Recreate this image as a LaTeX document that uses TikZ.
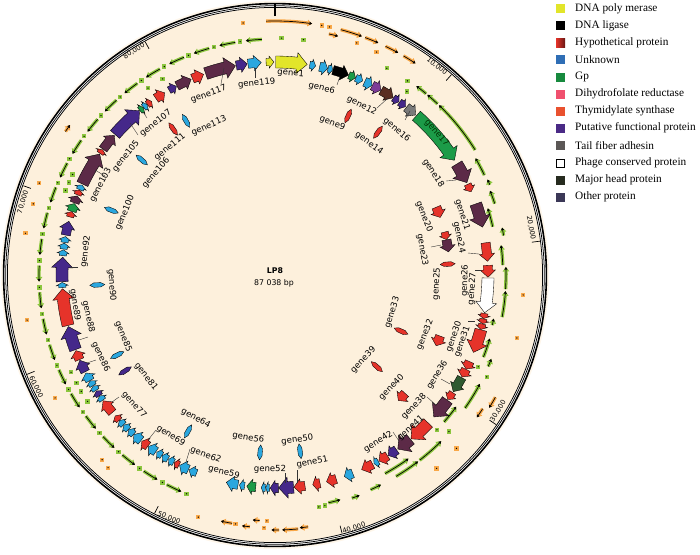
\documentclass[tikz,border=0pt]{standalone}
\usepackage{fontspec}
\setmainfont{Liberation Serif}
\newfontfamily\dvs{DejaVu Sans}
\usetikzlibrary{arrows.meta}
\definecolor{bgpeach}{HTML}{FDF0DC}
\definecolor{cyellow}{HTML}{E2E52A}
\definecolor{ccyan}{HTML}{2AA7DF}
\definecolor{cred}{HTML}{E6332A}
\definecolor{cpurple}{HTML}{45288A}
\definecolor{cpurpleb}{HTML}{7D3C98}
\definecolor{cmaroon}{HTML}{5C2A47}
\definecolor{cgreen}{HTML}{1C9B48}
\definecolor{cdkgreen}{HTML}{2E5A30}
\definecolor{cgrey}{HTML}{7A7A7A}
\definecolor{cbrown}{HTML}{5A2F22}
\definecolor{cgreenl}{HTML}{8CC63E}
\definecolor{corange}{HTML}{F9A848}
\definecolor{lgblue}{HTML}{2F6EB5}
\definecolor{lggreen}{HTML}{178A3E}
\definecolor{lgpink}{HTML}{F0506E}
\definecolor{lgorange}{HTML}{E9512F}
\definecolor{lgpurple}{HTML}{4A2A86}
\definecolor{lggrey}{HTML}{5B5756}
\definecolor{lghead}{HTML}{262B1F}
\definecolor{lgother}{HTML}{3B3857}
\tikzset{
  genebox/.style={draw=black, line width=0.35pt, line join=miter},
  glabel/.style={font=\dvs\fontsize{8.5}{9}\selectfont, inner sep=0pt},
  tlabel/.style={font=\dvs\fontsize{6.8}{7}\selectfont, inner sep=0pt},
  legtext/.style={font=\fontsize{11.3}{12}\selectfont, inner sep=0pt, anchor=west},
  leader/.style={draw=black!80, line width=0.4pt},
  tickline/.style={line width=0.7pt}
}
% gene arrow on an arc: start, tip, colour, half body, half head, head length (deg), radius
\newcommand{\garr}[7]{%
 \pgfmathsetmacro{\gL}{abs(#2-#1)}%
 \pgfmathsetmacro{\gS}{(#2>#1)?1:-1}%
 \pgfmathsetmacro{\gH}{min(#6,0.6*\gL)}%
 \pgfmathsetmacro{\aA}{90-#1}%
 \pgfmathsetmacro{\aB}{90-(#2-\gS*\gH)}%
 \pgfmathsetmacro{\aT}{90-#2}%
 \pgfmathsetmacro{\gRi}{#7-#4}%
 \pgfmathsetmacro{\gRo}{#7+#4}%
 \pgfmathsetmacro{\gRhi}{#7-#5}%
 \pgfmathsetmacro{\gRho}{#7+#5}%
 \filldraw[genebox, fill=#3] (\aA:\gRi pt) arc[start angle=\aA, end angle=\aB, radius=\gRi pt] -- (\aB:\gRhi pt) -- (\aT:#7pt) -- (\aB:\gRho pt) -- (\aB:\gRo pt) arc[start angle=\aB, end angle=\aA, radius=\gRo pt] -- cycle;}
\newcommand{\genS}[3]{\garr{#1}{#2}{#3}{3.6}{6}{1.4}{213}}
\newcommand{\genM}[3]{\garr{#1}{#2}{#3}{4.6}{7.6}{2}{213}}
\newcommand{\genB}[3]{\garr{#1}{#2}{#3}{6}{10.5}{2.8}{213}}
% small radial gene: angle, radius, colour
\newcommand{\ghex}[3]{%
 \pgfmathsetmacro{\hA}{90-#1}%
 \pgfmathsetmacro{\hD}{2.2/#2*57.3}%
 \pgfmathsetmacro{\hP}{\hA+\hD}\pgfmathsetmacro{\hM}{\hA-\hD}%
 \pgfmathsetmacro{\hIa}{#2-7.5}\pgfmathsetmacro{\hIb}{#2-3.5}%
 \pgfmathsetmacro{\hOb}{#2+3.5}\pgfmathsetmacro{\hOa}{#2+7.5}%
 \filldraw[genebox, fill=#3] (\hA:\hIa pt) -- (\hP:\hIb pt) -- (\hP:\hOb pt) -- (\hA:\hOa pt) -- (\hM:\hOb pt) -- (\hM:\hIb pt) -- cycle;}
% feature arrow: tail, tip, radius, halo colour
\newcommand{\farc}[4]{%
 \pgfmathsetmacro{\fA}{90-#1}\pgfmathsetmacro{\fB}{90-#2}%
 \draw[line width=3.4pt, #4, -{Triangle[length=4.6pt,width=6.6pt]}] (\fA:#3pt) arc[start angle=\fA, end angle=\fB, radius=#3pt];
 \draw[line width=0.7pt, black, -{Triangle[length=2.6pt,width=3pt]}] (\fA:#3pt) arc[start angle=\fA, end angle=\fB, radius=#3pt];}
\newcommand{\fdot}[3]{%
 \pgfmathsetmacro{\fA}{90-#1}%
 \fill[#3] (\fA:#2pt) +(-2.2pt,-2.2pt) rectangle +(2.2pt,2.2pt);
 \fill[black] (\fA:#2pt) circle[radius=0.7pt];}
% labels at image coordinates, rotated along the circle
\newcommand{\glab}[3]{%
 \pgfmathsetmacro{\lphi}{atan2(275-#2,#1-275)}%
 \pgfmathsetmacro{\lrot}{(#2<275)?(\lphi-90):(\lphi+90)}%
 \node[glabel, rotate=\lrot] (#3) at (#1,-#2) {#3};}
\newcommand{\tlab}[4]{%
 \pgfmathsetmacro{\lphi}{atan2(275-#2,#1-275)}%
 \pgfmathsetmacro{\lrot}{(#2<275)?(\lphi-90):(\lphi+90)}%
 \node[tlabel, rotate=\lrot] (#3) at (#1,-#2) {#4};}
\newcommand{\ldr}[4]{\draw[leader] (#1,-#2) -- (#3,-#4);}
\begin{document}
\begin{tikzpicture}[x=1pt,y=1pt]
\useasboundingbox (0,0) rectangle (700,-554);
\begin{scope}[shift={(275,-275)}]
 \fill[bgpeach!60] (0,0) circle[radius=274pt];
 \fill[white] (0,0) circle[radius=271.5pt];
 \fill[bgpeach] (0,0) circle[radius=267.3pt];
 \draw[line width=1.6pt] (0,0) circle[radius=271.4pt];
 \draw[line width=0.75pt] (0,0) circle[radius=269.3pt];
 \draw[line width=0.75pt] (0,0) circle[radius=267.6pt];
 % ticks
 \draw[line width=1.3pt] (90:259pt) -- (90:271pt);
 \foreach \p in {10,20,...,80}{
   \pgfmathsetmacro{\ta}{90-\p/87.038*360}
   \draw[tickline] (\ta:259pt) -- (\ta:267pt);
 }
 % orange features (forward)
 \fdot{352.8}{254}{corange}
 \farc{-2}{8.4}{254}{corange}
 \fdot{10.6}{254}{corange}
 \fdot{12.4}{254}{corange}
 \farc{12.6}{14.8}{247}{corange}
 \farc{15}{20}{254}{corange}
 \farc{20.8}{24}{254}{corange}
 \fdot{19.4}{246}{corange}
 \fdot{24.5}{245}{corange}
 \farc{25.8}{29}{254}{corange}
 \farc{30.4}{33.6}{254}{corange}
 \fdot{94.6}{249}{corange}
 \fdot{104.6}{250}{corange}
 \farc{119}{121.8}{252}{corange}
 \farc{122.8}{125.2}{247}{corange}
 \fdot{133.7}{251}{corange}
 \fdot{140.1}{252}{corange}
 \farc{172.5}{174.4}{254}{corange}
 \farc{174.8}{178.4}{255}{corange}
 \farc{179.1}{180.8}{255}{corange}
 \fdot{182.5}{253}{corange}
 \fdot{181.9}{246}{corange}
 \farc{183.6}{185.2}{246}{corange}
 \farc{185.7}{187.5}{253}{corange}
 \fdot{189}{252}{corange}
 \farc{189.8}{192.4}{252}{corange}
 \fdot{197.6}{254}{corange}
 \fdot{220.9}{255}{corange}
 \fdot{223.1}{253}{corange}
 \fdot{240.8}{252}{corange}
 \fdot{259.7}{252}{corange}
 \fdot{279.5}{253}{corange}
 \fdot{286.4}{252}{corange}
 \fdot{291.3}{253}{corange}
 \farc{304.4}{306.2}{254}{corange}
 % green features (reverse)
 \fdot{1.6}{237}{cgreenl}
 \fdot{6.9}{237}{cgreenl}
 \fdot{28.4}{235}{cgreenl}
 \fdot{34.3}{235}{cgreenl}
 \fdot{35.7}{226}{cgreenl}
 \farc{58}{44}{236}{cgreenl}
 \farc{43.5}{40.2}{236}{cgreenl}
 \farc{39.8}{36.8}{236}{cgreenl}
 \farc{64.5}{59.8}{232}{cgreenl}
 \farc{67.2}{65.8}{233}{cgreenl}
 \farc{72}{68.6}{231}{cgreenl}
 \farc{77.5}{72.6}{223}{cgreenl}
 \farc{80.2}{78.2}{232}{cgreenl}
 \farc{100.5}{94}{231}{cgreenl}
 \farc{93.5}{88}{231}{cgreenl}
 \farc{87.5}{82.5}{228}{cgreenl}
 \farc{103}{101.3}{223}{cgreenl}
 \farc{111.5}{106.5}{224}{cgreenl}
 \farc{113.2}{111.2}{232}{cgreenl}
 \fdot{114.3}{223}{cgreenl}
 \fdot{115.7}{235}{cgreenl}
 \farc{125}{118}{232}{cgreenl}
 \farc{131}{126}{224}{cgreenl}
 \fdot{133.7}{224}{cgreenl}
 \fdot{132}{234}{cgreenl}
 \farc{149}{142.5}{235}{cgreenl}
 \farc{142}{135}{235}{cgreenl}
 \farc{151}{144}{227}{cgreenl}
 \farc{156}{153.2}{235}{cgreenl}
 \farc{161}{159}{236}{cgreenl}
 \fdot{169.3}{236}{cgreenl}
 \fdot{167.8}{236}{cgreenl}
 \farc{166.8}{163.8}{234}{cgreenl}
 \foreach \t in {202,208.5,...,352}{
   \fdot{\t}{236}{cgreenl}
   \pgfmathsetmacro{\tta}{\t+5.3}\pgfmathsetmacro{\ttb}{\t+1.4}
   \farc{\tta}{\ttb}{236}{cgreenl}
 }
 \foreach \t in {236,239,241.5,244.5,292,294.2,296.4,325.8,330.2}{
   \fdot{\t}{226}{cgreenl}
 }
 % main gene track
 \genS{-2.4}{-0.3}{cyellow}
 \genB{0.2}{8.7}{cyellow}
 \genS{9.4}{11}{ccyan}
 \genM{12.1}{14.3}{ccyan}
 \genS{14.4}{15.7}{ccyan}
 \genM{15.8}{20.2}{black}
 \genS{20.3}{22.2}{cgreen}
 \genS{22.3}{24.3}{ccyan}
 \genM{24.9}{27.1}{ccyan}
 \genM{27.2}{29.8}{cpurpleb}
 \genM{29.9}{33.7}{cbrown}
 \genS{33.8}{35.6}{cpurple}
 \genS{35.8}{37.8}{cpurple}
 \genM{38.1}{41.3}{cgrey}
 \genB{41.6}{57.4}{cgreen}
 \genB{58.6}{64.3}{cmaroon}
 \genS{64.8}{67}{cred}
 \genB{70.5}{77}{cmaroon}
 \genM{81.3}{86.3}{cred}
 \genM{87.4}{90.6}{cred}
 \genB{90.8}{100.2}{white}
 \genS{100.4}{101.8}{cred}
 \genS{101.9}{103.2}{cred}
 \genS{103.3}{104.8}{cred}
 \genB{104.9}{111.3}{cred}
 \genM{114}{116.2}{cred}
 \genM{116.3}{118.6}{cred}
 \genM{118.8}{123.2}{cdkgreen}
 \genS{123.5}{125.8}{cred}
 \genB{126}{131.8}{cmaroon}
 \genB{134}{140.3}{cred}
 \genB{140.5}{144.8}{cmaroon}
 \genM{145.2}{147.9}{cpurple}
 \genM{148.1}{150.8}{cred}
 \genS{151}{152.3}{ccyan}
 \genM{152.7}{156}{cred}
 \genM{158.6}{161}{ccyan}
 \genM{163.3}{166}{cred}
 \genM{167.8}{169.8}{cred}
 \genM{171.9}{174.9}{cred}
 \genB{175}{179}{cpurple}
 \genM{179.1}{181.3}{cpurple}
 \genS{181.5}{182.5}{ccyan}
 \genS{182.6}{183.7}{ccyan}
 \genM{185.2}{187.6}{cgreen}
 \genS{188.2}{189.6}{ccyan}
 \genM{190}{193.2}{ccyan}
 \genS{201.6}{203.8}{ccyan}
 \genM{204}{206.6}{ccyan}
 \genS{206.8}{208.2}{cred}
 \genS{208.4}{210}{ccyan}
 \genS{210.2}{212}{ccyan}
 \genS{212.1}{213.7}{ccyan}
 \genM{214}{216.4}{ccyan}
 \genM{216.6}{218.7}{cred}
 \genM{219}{221.5}{ccyan}
 \genS{221.6}{223.4}{ccyan}
 \genS{223.5}{225.2}{ccyan}
 \genS{225.3}{226.9}{ccyan}
 \genS{227}{228.6}{cred}
 \genM{229.8}{233.8}{cred}
 \genS{234}{235.4}{ccyan}
 \genS{235.5}{237}{cpurple}
 \genS{237.2}{238.6}{ccyan}
 \genS{238.7}{240.2}{ccyan}
 \genM{240.3}{242.6}{ccyan}
 \genM{243}{246.4}{cpurple}
 \genM{246.6}{249.2}{cred}
 \genB{249.5}{256}{cpurple}
 \genB{256.3}{266.3}{cred}
 \genS{266.6}{268}{ccyan}
 \genB{268.2}{274.8}{cpurple}
 \genS{275.2}{276.8}{ccyan}
 \genS{277}{278.6}{ccyan}
 \genS{278.8}{280.4}{ccyan}
 \genM{280.8}{284.6}{cpurple}
 \genS{285.8}{287.3}{cred}
 \genM{287.4}{289.6}{cgreen}
 \genM{289.8}{291.8}{cmaroon}
 \genS{292.1}{293.5}{cred}
 \genS{293.6}{295}{ccyan}
 \genB{295.3}{304.6}{cmaroon}
 \genS{304.8}{306}{cred}
 \genM{306.2}{311}{cmaroon}
 \genB{311.3}{320.5}{cpurple}
 \genS{320.6}{321.8}{cgreen}
 \genS{321.9}{323.1}{ccyan}
 \genS{323.2}{324.6}{cred}
 \genM{326}{328.8}{cred}
 \genS{330.2}{332.4}{cpurple}
 \genM{332.6}{336.8}{cmaroon}
 \genM{337.2}{340.4}{cred}
 \genB{341}{349.3}{cmaroon}
 \genM{349.5}{352.5}{cpurple}
 \genM{352.7}{356.3}{ccyan}
 % inner genes
 \garr{67.2}{70.8}{cred}{4.6}{7.6}{2}{175}
 \garr{75.8}{78.3}{cred}{3.6}{6}{1.4}{175}
 \garr{78.4}{82.4}{cmaroon}{4.6}{7.6}{2}{175}
 \garr{110.3}{113.7}{cred}{4.6}{7.6}{2}{176}
 \garr{132.3}{135.5}{cred}{4.6}{7.6}{2}{176}
 \ghex{24.7}{175}{cred}
 \ghex{35.8}{176}{cred}
 \ghex{86.4}{173}{cred}
 \ghex{114}{138}{cred}
 \ghex{132}{137}{cred}
 \ghex{171.9}{178}{ccyan}
 \ghex{184.8}{178}{ccyan}
 \ghex{209.1}{179}{ccyan}
 \ghex{237.4}{178}{cpurple}
 \ghex{243.1}{177}{ccyan}
 \ghex{266.8}{178}{ccyan}
 \ghex{291.6}{176}{ccyan}
 \ghex{310.8}{176}{ccyan}
 \ghex{325.1}{178}{cred}
 \ghex{330}{178}{ccyan}
\end{scope}
% tick labels
\tlab{437}{66}{t10}{10,000}
\tlab{531}{228}{t20}{20,000}
\tlab{498}{411}{t30}{30,000}
\tlab{354}{528}{t40}{40,000}
\tlab{169}{518}{t50}{50,000}
\tlab{36}{387}{t60}{60,000}
\tlab{23}{202}{t70}{70,000}
\tlab{134}{51}{t80}{80,000}
% leader lines
\ldr{337}{85}{340}{76}
\ldr{377}{108}{388}{98}
\ldr{405}{120}{410}{111}
\ldr{446}{181}{456}{180}
\ldr{431}{247}{441}{245}
\ldr{468}{253}{479}{254}
\ldr{475}{270}{481}{270}
\ldr{468}{321}{475}{321}
\ldr{441}{379}{450}{384}
\ldr{427}{397}{436}{405}
\ldr{393}{432}{399}{441}
\ldr{297}{470}{297}{483}
\ldr{285}{473}{285}{483}
\ldr{190}{449}{186}{462}
\ldr{156}{430}{148}{440}
\ldr{119}{397}{112}{402}
\ldr{96}{360}{87}{363}
\ldr{88}{337}{79}{340}
\ldr{78}{267}{70}{267}
\ldr{105}{176}{95}{170}
\ldr{138}{135}{130}{123}
\ldr{147}{118}{143}{112}
\ldr{221}{84}{224}{68}
\ldr{255}{78}{255}{68}
% gene labels
\glab{290.7}{73.3}{gene1}
\glab{321.7}{88.3}{gene6}
\glab{332.3}{123.3}{gene9}
\glab{361.7}{105.7}{gene12}
\glab{369}{143.3}{gene14}
\glab{396.7}{130}{gene16}
\node[glabel, rotate=-48.8, text=black!80!green] (gene17) at (436.7,-133.3) {gene17};
\glab{433.3}{173.3}{gene18}
\glab{424}{216.7}{gene20}
\glab{462.3}{215}{gene21}
\glab{422.3}{250}{gene23}
\glab{459}{237.3}{gene24}
\glab{436.7}{284}{gene25}
\glab{465}{280.7}{gene26}
\glab{472.3}{289}{gene27}
\glab{454}{336.7}{gene30}
\glab{462.3}{341.7}{gene31}
\glab{425}{335}{gene32}
\glab{392.3}{312.3}{gene33}
\glab{437.3}{375}{gene36}
\glab{414}{406.7}{gene38}
\glab{363.3}{360}{gene39}
\glab{391.7}{387.3}{gene40}
\glab{410.7}{428.3}{gene41}
\glab{378.3}{441.7}{gene42}
\glab{297.3}{440}{gene50}
\glab{312.3}{462.3}{gene51}
\glab{270}{469.3}{gene52}
\glab{248.3}{438}{gene56}
\glab{224}{472.3}{gene59}
\glab{205.7}{455}{gene62}
\glab{195.7}{418.3}{gene64}
\glab{170.7}{436}{gene69}
\glab{134}{405}{gene77}
\glab{146}{376.7}{gene81}
\glab{123.3}{336.7}{gene85}
\glab{100.7}{356.7}{gene86}
\glab{88.3}{316.7}{gene88}
\glab{75}{305}{gene89}
\glab{111.7}{285}{gene90}
\glab{85.7}{251.7}{gene92}
\glab{125}{212.7}{gene100}
\glab{100.7}{185}{gene103}
\glab{126}{156}{gene105}
\glab{156}{173}{gene106}
\glab{155.7}{123.3}{gene107}
\glab{170}{147}{gene111}
\glab{209}{126}{gene113}
\glab{208.7}{94.3}{gene117}
\glab{256.7}{83.3}{gene119}
% centre
\node[font=\dvs\bfseries\fontsize{7.8}{8}\selectfont, inner sep=0pt] (lp8) at (275,-271) {LP8};
\node[font=\dvs\fontsize{7.8}{8}\selectfont, inner sep=0pt] (bplen) at (274,-283.5) {87 038 bp};
% legend
\fill[cyellow] (556,-4) rectangle (565,-13);
\fill[black] (556,-21) rectangle (565,-30);
\shade[left color=cred, right color=cred!45!black] (556,-38) rectangle (565,-47);
\fill[lgblue] (556,-55) rectangle (565,-64);
\fill[lggreen] (556,-72.5) rectangle (565,-81.5);
\fill[lgpink] (556,-89.5) rectangle (565,-98.5);
\fill[lgorange] (556,-106.5) rectangle (565,-115.5);
\fill[lgpurple] (556,-123.5) rectangle (565,-132.5);
\fill[lggrey] (556,-141) rectangle (565,-150);
\filldraw[fill=white, draw=black, line width=0.8pt] (556.4,-158.9) rectangle (564.6,-167.1);
\fill[lghead] (556,-175.5) rectangle (565,-184.5);
\fill[lgother] (556,-192.5) rectangle (565,-201.5);
\node[legtext] (lg1) at (575,-8.5) {DNA poly merase};
\node[legtext] (lg2) at (575,-25.5) {DNA ligase};
\node[legtext] (lg3) at (575,-42.5) {Hypothetical protein};
\node[legtext] (lg4) at (575,-59.5) {Unknown};
\node[legtext] (lg5) at (575,-77) {Gp};
\node[legtext] (lg6) at (575,-94) {Dihydrofolate reductase};
\node[legtext] (lg7) at (575,-111) {Thymidylate synthase};
\node[legtext] (lg8) at (575,-128) {Putative functional protein};
\node[legtext] (lg9) at (575,-145.5) {Tail fiber adhesin};
\node[legtext] (lg10) at (575,-163) {Phage conserved protein};
\node[legtext] (lg11) at (575,-180) {Major head protein};
\node[legtext] (lg12) at (575,-197) {Other protein};
\end{tikzpicture}
\end{document}
